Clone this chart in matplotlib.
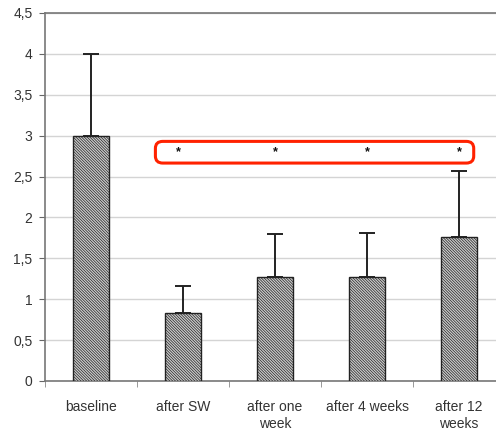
import matplotlib
matplotlib.use("Agg")
import matplotlib.pyplot as plt
from matplotlib.patches import FancyBboxPatch
from matplotlib.ticker import FuncFormatter
import numpy as np

categories = ["baseline", "after SW", "after one\nweek", "after 4 weeks", "after 12\nweeks"]
means = [3.0, 0.83, 1.27, 1.27, 1.76]
upper_err = [1.0, 0.33, 0.53, 0.54, 0.81]
star_y = 2.80
star_idx = [1, 2, 3, 4]
yticks = [0, 0.5, 1, 1.5, 2, 2.5, 3, 3.5, 4, 4.5]

plt.rcParams['font.family'] = ['Liberation Sans', 'DejaVu Sans']
plt.rcParams['hatch.color'] = '#5a5a5a'
plt.rcParams['hatch.linewidth'] = 0.5

fig = plt.figure(figsize=(4.96, 4.32), dpi=100)
W, H = 496, 432
x0, x1 = 45, 505
y0, y1 = 381, 13
ax = fig.add_axes([x0 / W, 1 - y0 / H, (x1 - x0) / W, (y0 - y1) / H])

x = np.arange(len(categories))
ax.bar(x, means, width=0.40, facecolor='#cccccc', edgecolor='#222222',
       hatch='\\' * 12, linewidth=1.0, zorder=3)
lower = [0] * len(means)
ax.errorbar(x, means, yerr=[lower, upper_err], fmt='none', ecolor='#222222',
            elinewidth=1.4, capsize=6, capthick=1.4, zorder=4)

ax.set_xlim(-0.5, 4.5)
ax.set_ylim(0, 4.5)
ax.set_yticks(yticks)
ax.yaxis.set_major_formatter(FuncFormatter(lambda v, p: ('%g' % v).replace('.', ',')))
ax.grid(axis='y', color='#d4d4d4', linewidth=1.0, zorder=0)
ax.set_axisbelow(True)

ax.set_xticks(x)
ax.set_xticklabels(categories, fontsize=10, color='#333333', linespacing=1.25)
ax.set_xticks(np.arange(-0.5, 4.6, 1.0), minor=True)
ax.tick_params(axis='x', which='major', length=0, pad=14)
ax.tick_params(axis='x', which='minor', length=4, color='#888888')
ax.tick_params(axis='y', length=4, color='#666666', labelsize=10, labelcolor='#333333', pad=5)

ax.spines['right'].set_visible(False)
for s in ['left', 'bottom', 'top']:
    ax.spines[s].set_color('#777777')
    ax.spines[s].set_linewidth(1.2)

for i in star_idx:
    ax.text(i - (0.05 if i == 1 else 0.0), star_y, '*', ha='center', va='center',
            fontsize=9, fontweight='bold', color='#111111', zorder=5)

box = FancyBboxPatch((0.70, 2.665), 3.46, 0.265,
                     boxstyle="round,pad=0,rounding_size=0.08", mutation_aspect=1.07,
                     facecolor='none', edgecolor='#ff2200', linewidth=2.2, zorder=6,
                     clip_on=False)
ax.add_patch(box)

fig.savefig("out.png", dpi=100)
